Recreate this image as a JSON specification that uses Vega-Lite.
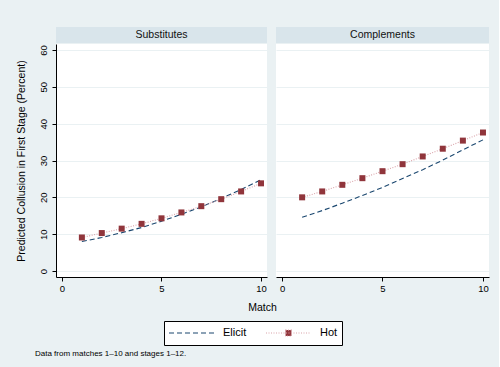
{
  "$schema": "https://vega.github.io/schema/vega-lite/v6.json",
  "background": "#eaf1f3",
  "padding": {"left": 16, "top": 27, "right": 10, "bottom": 10},
  "config": {
    "font": "Liberation Sans",
    "view": {"stroke": null},
    "legend": {"layout": {"bottom": {"anchor": "middle"}}}
  },
  "datasets": {
    "d": [
      {"panel": "Substitutes", "series": "Elicit", "match": 1, "value": 8.0},
      {"panel": "Substitutes", "series": "Elicit", "match": 2, "value": 9.1},
      {"panel": "Substitutes", "series": "Elicit", "match": 3, "value": 10.4},
      {"panel": "Substitutes", "series": "Elicit", "match": 4, "value": 11.8},
      {"panel": "Substitutes", "series": "Elicit", "match": 5, "value": 13.5},
      {"panel": "Substitutes", "series": "Elicit", "match": 6, "value": 15.4},
      {"panel": "Substitutes", "series": "Elicit", "match": 7, "value": 17.4},
      {"panel": "Substitutes", "series": "Elicit", "match": 8, "value": 19.7},
      {"panel": "Substitutes", "series": "Elicit", "match": 9, "value": 22.1},
      {"panel": "Substitutes", "series": "Elicit", "match": 10, "value": 24.8},
      {"panel": "Substitutes", "series": "Hot", "match": 1, "value": 9.1},
      {"panel": "Substitutes", "series": "Hot", "match": 2, "value": 10.3},
      {"panel": "Substitutes", "series": "Hot", "match": 3, "value": 11.5},
      {"panel": "Substitutes", "series": "Hot", "match": 4, "value": 12.8},
      {"panel": "Substitutes", "series": "Hot", "match": 5, "value": 14.3},
      {"panel": "Substitutes", "series": "Hot", "match": 6, "value": 15.9},
      {"panel": "Substitutes", "series": "Hot", "match": 7, "value": 17.6},
      {"panel": "Substitutes", "series": "Hot", "match": 8, "value": 19.5},
      {"panel": "Substitutes", "series": "Hot", "match": 9, "value": 21.6},
      {"panel": "Substitutes", "series": "Hot", "match": 10, "value": 23.8},
      {"panel": "Complements", "series": "Elicit", "match": 1, "value": 14.6},
      {"panel": "Complements", "series": "Elicit", "match": 2, "value": 16.4},
      {"panel": "Complements", "series": "Elicit", "match": 3, "value": 18.4},
      {"panel": "Complements", "series": "Elicit", "match": 4, "value": 20.5},
      {"panel": "Complements", "series": "Elicit", "match": 5, "value": 22.7},
      {"panel": "Complements", "series": "Elicit", "match": 6, "value": 25.1},
      {"panel": "Complements", "series": "Elicit", "match": 7, "value": 27.5},
      {"panel": "Complements", "series": "Elicit", "match": 8, "value": 30.1},
      {"panel": "Complements", "series": "Elicit", "match": 9, "value": 32.9},
      {"panel": "Complements", "series": "Elicit", "match": 10, "value": 35.6},
      {"panel": "Complements", "series": "Hot", "match": 1, "value": 20.0},
      {"panel": "Complements", "series": "Hot", "match": 2, "value": 21.6},
      {"panel": "Complements", "series": "Hot", "match": 3, "value": 23.4},
      {"panel": "Complements", "series": "Hot", "match": 4, "value": 25.2},
      {"panel": "Complements", "series": "Hot", "match": 5, "value": 27.1},
      {"panel": "Complements", "series": "Hot", "match": 6, "value": 29.0},
      {"panel": "Complements", "series": "Hot", "match": 7, "value": 31.1},
      {"panel": "Complements", "series": "Hot", "match": 8, "value": 33.2},
      {"panel": "Complements", "series": "Hot", "match": 9, "value": 35.4},
      {"panel": "Complements", "series": "Hot", "match": 10, "value": 37.6}
    ]
  },
  "title": {"text": "Data from matches 1–10 and stages 1–12.", "orient": "bottom", "anchor": "start", "fontSize": 8, "fontWeight": "normal", "color": "#000", "dx": 19, "offset": 4},
  "vconcat": [
    {
      "title": {"text": "Match", "orient": "bottom", "anchor": "middle", "fontSize": 10.5, "fontWeight": "normal", "color": "#000", "offset": 10, "dx": 10},
      "spacing": 9,
      "hconcat": [
        {
          "bounds": "flush",
          "spacing": 1,
          "vconcat": [
            {
              "width": 211, "height": 16,
              "view": {"fill": "#d9e5eb", "stroke": null},
              "data": {"values": [{"label": "Substitutes"}]},
              "mark": {"type": "text", "fontSize": 10.5, "color": "#111"},
              "encoding": {"text": {"field": "label"}}
            },
            {
              "width": 211, "height": 233,
              "view": {"fill": "white", "stroke": null},
              "data": {"name": "d"},
              "transform": [{"filter": "datum.panel === 'Substitutes'"}],
              "encoding": {
                "x": {"field": "match", "type": "quantitative", "scale": {"domain": [-0.3, 10.3], "nice": false, "zero": false},
                  "axis": {"values": [0, 5, 10], "title": null, "grid": false, "domainColor": "black", "tickColor": "black", "tickSize": 4, "labelFontSize": 9.5, "labelColor": "#000", "labelPadding": 2}},
                "y": {"field": "value", "type": "quantitative", "scale": {"domain": [-1.63, 61.63], "nice": false, "zero": false},
                  "axis": {"values": [0, 10, 20, 30, 40, 50, 60], "title": "Predicted Collusion in First Stage (Percent)", "titleFontSize": 10.5, "titleFontWeight": "normal", "titleColor": "#000", "titlePadding": 12, "grid": true, "gridColor": "#eaf1f3", "gridWidth": 1.2, "domainColor": "black", "tickColor": "black", "tickSize": 4, "labelAngle": -90, "labelAlign": "center", "labelBaseline": "bottom", "labelFontSize": 9.5, "labelColor": "#000", "labelPadding": 4}}
              },
              "layer": [
                {
                  "mark": {"type": "line", "strokeWidth": 1.1},
                  "encoding": {
                    "color": {"field": "series", "type": "nominal", "scale": {"domain": ["Elicit", "Hot"], "range": ["#1a476f", "#d9a3aa"]},
                      "legend": {"title": null, "orient": "bottom", "direction": "horizontal", "fillColor": "white", "strokeColor": "black", "padding": 4, "offset": 8, "symbolSize": 2025, "clipHeight": 16, "symbolStrokeWidth": 1.1, "labelFontSize": 11, "labelColor": "#000", "labelOffset": 8, "columnPadding": 18,
                        "encode": {"symbols": {"update": {
                          "shape": {"signal": "datum.value === 'Hot' ? 'M-1,0H1M-0.13,-0.13H0.13V0.13H-0.13Z' : 'M-1,0H1'"},
                          "fill": {"signal": "datum.value === 'Hot' ? '#90353b' : 'transparent'"}
                        }}}}},
                    "strokeDash": {"field": "series", "type": "nominal", "scale": {"domain": ["Elicit", "Hot"], "range": [[5, 3], [1, 1.5]]}}
                  }
                },
                {
                  "transform": [{"filter": "datum.series === 'Hot'"}],
                  "mark": {"type": "square", "filled": true, "opacity": 1, "size": 36, "color": "#90353b"},
                  "encoding": {}
                }
              ]
            }
          ]
        },
        {
          "bounds": "flush",
          "spacing": 1,
          "vconcat": [
            {
              "width": 213, "height": 16,
              "view": {"fill": "#d9e5eb", "stroke": null},
              "data": {"values": [{"label": "Complements"}]},
              "mark": {"type": "text", "fontSize": 10.5, "color": "#111"},
              "encoding": {"text": {"field": "label"}}
            },
            {
              "width": 213, "height": 233,
              "view": {"fill": "white", "stroke": null},
              "data": {"name": "d"},
              "transform": [{"filter": "datum.panel === 'Complements'"}],
              "encoding": {
                "x": {"field": "match", "type": "quantitative", "scale": {"domain": [-0.3, 10.3], "nice": false, "zero": false},
                  "axis": {"values": [0, 5, 10], "title": null, "grid": false, "domainColor": "black", "tickColor": "black", "tickSize": 4, "labelFontSize": 9.5, "labelColor": "#000", "labelPadding": 2}},
                "y": {"field": "value", "type": "quantitative", "scale": {"domain": [-1.63, 61.63], "nice": false, "zero": false},
                  "axis": {"values": [0, 10, 20, 30, 40, 50, 60], "title": null, "labels": false, "ticks": false, "domain": false, "grid": true, "gridColor": "#eaf1f3", "gridWidth": 1.2}}
              },
              "layer": [
                {
                  "mark": {"type": "line", "strokeWidth": 1.1},
                  "encoding": {
                    "color": {"field": "series", "type": "nominal"},
                    "strokeDash": {"field": "series", "type": "nominal"}
                  }
                },
                {
                  "transform": [{"filter": "datum.series === 'Hot'"}],
                  "mark": {"type": "square", "filled": true, "opacity": 1, "size": 36, "color": "#90353b"},
                  "encoding": {}
                }
              ]
            }
          ]
        }
      ]
    }
  ]
}
